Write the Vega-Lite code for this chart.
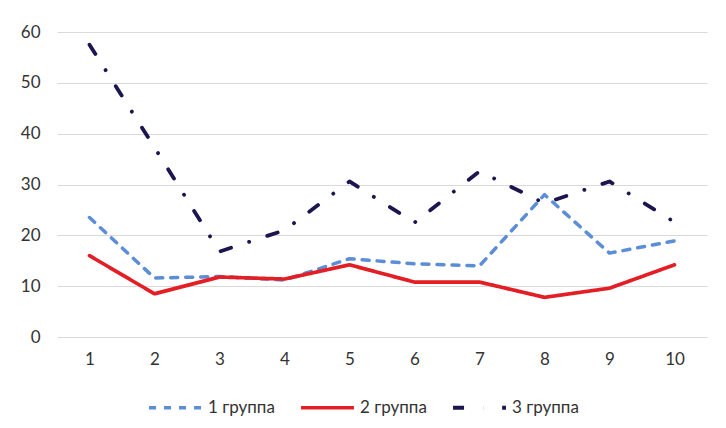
{
  "$schema": "https://vega.github.io/schema/vega-lite/v6.json",
  "width": 650,
  "height": 305,
  "autosize": {"type": "none"},
  "padding": {"left": 57, "top": 32, "right": 19, "bottom": 91},
  "background": "white",
  "config": {
    "view": {"stroke": null},
    "font": "Lato",
    "axis": {"labelFont": "Lato", "labelFontSize": 17, "labelColor": "#333333"}
  },
  "data": {
    "values": [
      {"x": "1", "group": "1 группа", "value": 23.5},
      {"x": "2", "group": "1 группа", "value": 11.6},
      {"x": "3", "group": "1 группа", "value": 11.9},
      {"x": "4", "group": "1 группа", "value": 11.2},
      {"x": "5", "group": "1 группа", "value": 15.4},
      {"x": "6", "group": "1 группа", "value": 14.4},
      {"x": "7", "group": "1 группа", "value": 14.0},
      {"x": "8", "group": "1 группа", "value": 28.0},
      {"x": "9", "group": "1 группа", "value": 16.5},
      {"x": "10", "group": "1 группа", "value": 18.9},
      {"x": "1", "group": "2 группа", "value": 16.0},
      {"x": "2", "group": "2 группа", "value": 8.5},
      {"x": "3", "group": "2 группа", "value": 11.8},
      {"x": "4", "group": "2 группа", "value": 11.4},
      {"x": "5", "group": "2 группа", "value": 14.2},
      {"x": "6", "group": "2 группа", "value": 10.8},
      {"x": "7", "group": "2 группа", "value": 10.8},
      {"x": "8", "group": "2 группа", "value": 7.8},
      {"x": "9", "group": "2 группа", "value": 9.6},
      {"x": "10", "group": "2 группа", "value": 14.2},
      {"x": "1", "group": "3 группа", "value": 57.5},
      {"x": "2", "group": "3 группа", "value": 37.3},
      {"x": "3", "group": "3 группа", "value": 16.8},
      {"x": "4", "group": "3 группа", "value": 21.0},
      {"x": "5", "group": "3 группа", "value": 30.6},
      {"x": "6", "group": "3 группа", "value": 22.5},
      {"x": "7", "group": "3 группа", "value": 32.6},
      {"x": "8", "group": "3 группа", "value": 26.3},
      {"x": "9", "group": "3 группа", "value": 30.6},
      {"x": "10", "group": "3 группа", "value": 22.6}
    ]
  },
  "mark": {"type": "line", "strokeCap": "round", "strokeJoin": "round"},
  "encoding": {
    "x": {
      "field": "x",
      "type": "ordinal",
      "sort": null,
      "scale": {"type": "point", "padding": 0.5},
      "axis": {"title": null, "labelAngle": 0, "domain": false, "ticks": false, "grid": false, "labelPadding": 14}
    },
    "y": {
      "field": "value",
      "type": "quantitative",
      "scale": {"domain": [0, 60]},
      "axis": {"title": null, "values": [0, 10, 20, 30, 40, 50, 60], "domain": false, "ticks": false, "grid": true, "gridColor": "#d9d9d9", "gridWidth": 1, "labelPadding": 17}
    },
    "color": {
      "field": "group",
      "type": "nominal",
      "scale": {"domain": ["1 группа", "2 группа", "3 группа"], "range": ["#5B8ED6", "#E31E24", "#1B1650"]},
      "legend": {
        "title": null,
        "orient": "none",
        "direction": "horizontal",
        "legendX": 90,
        "legendY": 347,
        "symbolType": "stroke",
        "symbolSize": 2800,
        "labelFont": "Lato",
        "labelFontSize": 17,
        "labelColor": "#333333",
        "labelOffset": 4,
        "columnPadding": 18
      }
    },
    "strokeDash": {
      "field": "group",
      "type": "nominal",
      "scale": {"domain": ["1 группа", "2 группа", "3 группа"], "range": [[7, 8], [1, 0], [11, 19, 0.1, 19]]}
    },
    "strokeWidth": {
      "field": "group",
      "type": "nominal",
      "scale": {"domain": ["1 группа", "2 группа", "3 группа"], "range": [3.5, 3.8, 4.5]}
    }
  }
}
